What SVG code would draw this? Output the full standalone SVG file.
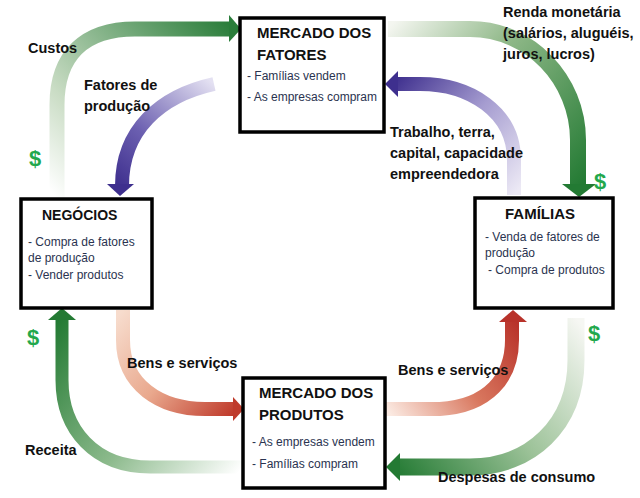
<svg xmlns="http://www.w3.org/2000/svg" width="640" height="498" viewBox="0 0 640 498">
<defs>
<linearGradient id="gCustos" gradientUnits="userSpaceOnUse" x1="57" y1="198" x2="235" y2="29"><stop offset="0" stop-color="#ffffff"/><stop offset="0.3" stop-color="#c9dcc4"/><stop offset="1" stop-color="#2a7d3a"/></linearGradient>
<linearGradient id="gFatores" gradientUnits="userSpaceOnUse" x1="214" y1="84" x2="122" y2="190"><stop offset="0" stop-color="#e4e1f2"/><stop offset="0.6" stop-color="#6b5fb0"/><stop offset="1" stop-color="#3e2f8e"/></linearGradient>
<linearGradient id="gRenda" gradientUnits="userSpaceOnUse" x1="388" y1="29" x2="578" y2="190"><stop offset="0" stop-color="#f4f6f0"/><stop offset="0.4" stop-color="#8fb888"/><stop offset="1" stop-color="#237a33"/></linearGradient>
<linearGradient id="gTrab" gradientUnits="userSpaceOnUse" x1="514" y1="195" x2="390" y2="84"><stop offset="0" stop-color="#ece9f5"/><stop offset="0.5" stop-color="#a59cd0"/><stop offset="1" stop-color="#3e2f8e"/></linearGradient>
<linearGradient id="gBensL" gradientUnits="userSpaceOnUse" x1="123" y1="310" x2="238" y2="409"><stop offset="0" stop-color="#f7dccd"/><stop offset="0.5" stop-color="#e9a88d"/><stop offset="1" stop-color="#bf3a2b"/></linearGradient>
<linearGradient id="gReceita" gradientUnits="userSpaceOnUse" x1="243" y1="467" x2="62" y2="315"><stop offset="0" stop-color="#ffffff"/><stop offset="0.45" stop-color="#8cba8c"/><stop offset="1" stop-color="#237a33"/></linearGradient>
<linearGradient id="gBensR" gradientUnits="userSpaceOnUse" x1="386" y1="409" x2="512" y2="315"><stop offset="0" stop-color="#fbeae2"/><stop offset="0.5" stop-color="#d9785f"/><stop offset="1" stop-color="#b8322a"/></linearGradient>
<linearGradient id="gDesp" gradientUnits="userSpaceOnUse" x1="576" y1="318" x2="390" y2="467"><stop offset="0" stop-color="#f6f7f3"/><stop offset="0.5" stop-color="#9cc298"/><stop offset="1" stop-color="#237a33"/></linearGradient>
</defs>
<style>
.box{fill:#ffffff;stroke:#000000;stroke-width:3.5}
.title{font-family:"Liberation Sans",Arial,sans-serif;font-weight:bold;font-size:15px;fill:#111111}
.body{font-family:"Liberation Sans",Arial,sans-serif;font-size:12px;fill:#2a3350}
.lbl{font-family:"Liberation Sans",Arial,sans-serif;font-weight:bold;font-size:14.5px;fill:#111111}
.dol{font-family:"Liberation Sans",Arial,sans-serif;font-weight:bold;font-size:22px;fill:#23a84c}
.shaft{fill:none;stroke-linecap:butt}
</style>
<rect width="640" height="498" fill="#ffffff"/>
<g id="connectors">
  <g id="custos">
    <path class="shaft" d="M57 198 L57 105 C57 55 85 29 135 29 L231 29" stroke="url(#gCustos)" stroke-width="15"/>
    <polygon points="229,15 241,29 229,42" fill="#2a7d3a"/>
  </g>
  <g id="fatores-producao">
    <path class="shaft" d="M214 84 C160 96 122 130 122 186" stroke="url(#gFatores)" stroke-width="14"/>
    <polygon points="107,184 134,184 120,196" fill="#3e2f8e"/>
  </g>
  <g id="renda">
    <path class="shaft" d="M388 29 L470 29 C530 29 578 80 578 140 L578 186" stroke="url(#gRenda)" stroke-width="16"/>
    <polygon points="562,184 596,184 579,197" fill="#237a33"/>
  </g>
  <g id="trabalho">
    <path class="shaft" d="M514 195 L514 160 C514 112 470 84 420 84 L396 84" stroke="url(#gTrab)" stroke-width="14"/>
    <polygon points="398,71 398,97 385,84" fill="#3e2f8e"/>
  </g>
  <g id="bens-esq">
    <path class="shaft" d="M123 310 L123 340 C123 385 160 409 205 409 L235 409" stroke="url(#gBensL)" stroke-width="14"/>
    <polygon points="233,397 233,421 244,409" fill="#bf3a2b"/>
  </g>
  <g id="receita">
    <path class="shaft" d="M243 467 L150 467 C95 467 62 430 62 380 L62 318" stroke="url(#gReceita)" stroke-width="13"/>
    <polygon points="48,320 76,320 62,308" fill="#237a33"/>
  </g>
  <g id="bens-dir">
    <path class="shaft" d="M386 409 L440 409 C488 406 512 378 512 340 L512 320" stroke="url(#gBensR)" stroke-width="14"/>
    <polygon points="499,322 527,322 513,310" fill="#b8322a"/>
  </g>
  <g id="despesas">
    <path class="shaft" d="M576 318 L576 360 C576 425 530 467 470 467 L398 467" stroke="url(#gDesp)" stroke-width="17"/>
    <polygon points="400,453 400,481 386,467" fill="#237a33"/>
  </g>
</g>
<g id="labels">
  <text class="lbl" x="28" y="53">Custos</text>
  <text class="lbl" x="84" y="90">Fatores de</text>
  <text class="lbl" x="84" y="111">produção</text>
  <text class="lbl" x="503" y="17">Renda monetária</text>
  <text class="lbl" x="503" y="38">(salários, aluguéis,</text>
  <text class="lbl" x="503" y="59">juros, lucros)</text>
  <text class="lbl" x="390" y="137">Trabalho, terra,</text>
  <text class="lbl" x="390" y="158">capital, capacidade</text>
  <text class="lbl" x="390" y="179">empreendedora</text>
  <text class="lbl" x="127" y="368">Bens e serviços</text>
  <text class="lbl" x="398" y="375">Bens e serviços</text>
  <text class="lbl" x="25" y="455">Receita</text>
  <text class="lbl" x="438" y="482">Despesas de consumo</text>
  <text class="dol" x="29" y="166">$</text>
  <text class="dol" x="27" y="345">$</text>
  <text class="dol" x="594" y="189">$</text>
  <text class="dol" x="588" y="341">$</text>
</g>
<g id="mercado-fatores">
  <rect class="box" x="240" y="18" width="144" height="114"/>
  <text class="title" x="257" y="38">MERCADO DOS</text>
  <text class="title" x="257" y="60">FATORES</text>
  <text class="body" x="247" y="80">- Famílias vendem</text>
  <text class="body" x="247" y="101">- As empresas compram</text>
</g>
<g id="negocios">
  <rect class="box" x="21" y="199" width="131" height="109"/>
  <text class="title" x="42" y="220" style="font-size:14px">NEGÓCIOS</text>
  <text class="body" x="28" y="246">- Compra de fatores</text>
  <text class="body" x="28" y="262">de produção</text>
  <text class="body" x="28" y="279">- Vender produtos</text>
</g>
<g id="familias">
  <rect class="box" x="475" y="198" width="138" height="110"/>
  <text class="title" x="505" y="219">FAMÍLIAS</text>
  <text class="body" x="485" y="241">- Venda de fatores de</text>
  <text class="body" x="485" y="257">produção</text>
  <text class="body" x="488" y="274">- Compra de produtos</text>
</g>
<g id="mercado-produtos">
  <rect class="box" x="243" y="378" width="142" height="110"/>
  <text class="title" x="259" y="398">MERCADO DOS</text>
  <text class="title" x="259" y="420">PRODUTOS</text>
  <text class="body" x="252" y="446">- As empresas vendem</text>
  <text class="body" x="252" y="468">- Famílias compram</text>
</g>
</svg>
